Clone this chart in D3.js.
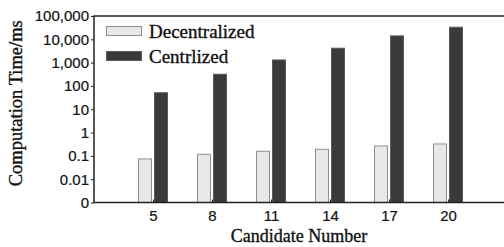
<!DOCTYPE html>
<html lang="en">
<head>
<meta charset="UTF-8">
<title>Computation Time</title>
<script src="https://d3js.org/d3.v7.min.js"></script>
<style>
  body { margin: 0; background: #fff; }
  svg { display: block; }
</style>
</head>
<body>
<div id="chart"></div>
<script>
// data
const candidates = [5, 8, 11, 14, 17, 20];
const decentralized = [0.074, 0.117, 0.158, 0.192, 0.266, 0.324];
const centralized = [51, 318, 1300, 4150, 14000, 33000];
const yTicks = [0.001, 0.01, 0.1, 1, 10, 100, 1000, 10000, 100000];
const yTickLabels = ["0", "0.01", "0.1", "1", "10", "100", "1,000", "10,000", "100,000"];
const seriesNames = ["Decentralized", "Centrlized"];

const width = 504, height = 247;
const plotLeft = 94, plotRight = 507, plotTop = 16, plotBottom = 202.5;

const svg = d3.select("#chart").append("svg")
  .attr("width", width)
  .attr("height", height);

const x = d3.scaleLinear().domain([2, 23]).range([plotLeft, plotRight]);
const y = d3.scaleLog().domain([0.001, 100000]).range([plotBottom, plotTop]);

const barW = 14;
const lightFill = "#e8e8e8", lightStroke = "#8e8e8e";
const darkFill = "#3a3a3a", darkStroke = "#5a5a5a";
const serif = "'Liberation Serif', 'Times New Roman', serif";
const sans = "'Liberation Sans', Arial, sans-serif";

// bars
svg.selectAll("rect.dec")
  .data(candidates)
  .join("rect")
  .attr("class", "dec")
  .attr("x", (d) => x(d) - 15 + 0.5)
  .attr("y", (d, i) => y(decentralized[i]))
  .attr("width", barW - 1)
  .attr("height", (d, i) => plotBottom - y(decentralized[i]))
  .attr("fill", lightFill)
  .attr("stroke", lightStroke)
  .attr("stroke-width", 1);

svg.selectAll("rect.cen")
  .data(candidates)
  .join("rect")
  .attr("class", "cen")
  .attr("x", (d) => x(d) + 1.5)
  .attr("y", (d, i) => y(centralized[i]))
  .attr("width", barW - 1)
  .attr("height", (d, i) => plotBottom - y(centralized[i]))
  .attr("fill", darkFill)
  .attr("stroke", darkStroke)
  .attr("stroke-width", 1);

// y axis
const yAxis = d3.axisLeft(y)
  .tickValues(yTicks)
  .tickFormat((d, i) => yTickLabels[i])
  .tickSize(3)
  .tickPadding(2);

const gy = svg.append("g")
  .attr("transform", `translate(${plotLeft},0)`)
  .call(yAxis);
gy.select(".domain").remove();
gy.selectAll("line").attr("stroke", "#222");
gy.selectAll("text")
  .attr("font-family", sans)
  .attr("font-size", "15px")
  .attr("fill", "#111")
  .attr("stroke", "#111")
  .attr("stroke-width", 0.2);

// x axis
const xAxis = d3.axisBottom(x)
  .tickValues(candidates)
  .tickFormat(d3.format("d"))
  .tickSize(-3)
  .tickPadding(8);

const gx = svg.append("g")
  .attr("transform", `translate(0,${plotBottom})`)
  .call(xAxis);
gx.select(".domain").remove();
gx.selectAll("line").attr("stroke", "#222");
gx.selectAll("text")
  .attr("font-family", sans)
  .attr("font-size", "15px")
  .attr("fill", "#111")
  .attr("stroke", "#111")
  .attr("stroke-width", 0.2);

// frame (left, top, bottom)
svg.append("path")
  .attr("d", `M${plotRight},${plotTop}H${plotLeft}V${plotBottom}H${plotRight}`)
  .attr("fill", "none")
  .attr("stroke", "#222")
  .attr("stroke-width", 1.5);

// legend
const legend = svg.append("g");
const legendRows = [
  { name: seriesNames[0], fill: lightFill, stroke: lightStroke },
  { name: seriesNames[1], fill: darkFill, stroke: darkStroke }
];
legendRows.forEach((r, i) => {
  const ly = 26 + i * 25;
  legend.append("rect")
    .attr("x", 106.5)
    .attr("y", ly + 0.5)
    .attr("width", 35)
    .attr("height", 9)
    .attr("fill", r.fill)
    .attr("stroke", r.stroke);
  legend.append("text")
    .attr("x", 149)
    .attr("y", ly + 11.5)
    .attr("font-family", serif)
    .attr("font-size", "19px")
    .attr("fill", "#111")
    .attr("stroke", "#111")
    .attr("stroke-width", 0.35)
    .text(r.name);
});

// axis titles
svg.append("text")
  .attr("transform", `translate(22,${(plotTop + plotBottom) / 2 - 6}) rotate(-90)`)
  .attr("text-anchor", "middle")
  .attr("font-family", serif)
  .attr("font-size", "18.5px")
  .attr("fill", "#111")
  .attr("stroke", "#111")
  .attr("stroke-width", 0.35)
  .text("Computation Time/ms");

svg.append("text")
  .attr("x", 299)
  .attr("y", 242)
  .attr("text-anchor", "middle")
  .attr("font-family", serif)
  .attr("font-size", "18px")
  .attr("fill", "#111")
  .attr("stroke", "#111")
  .attr("stroke-width", 0.35)
  .text("Candidate Number");
</script>
</body>
</html>
